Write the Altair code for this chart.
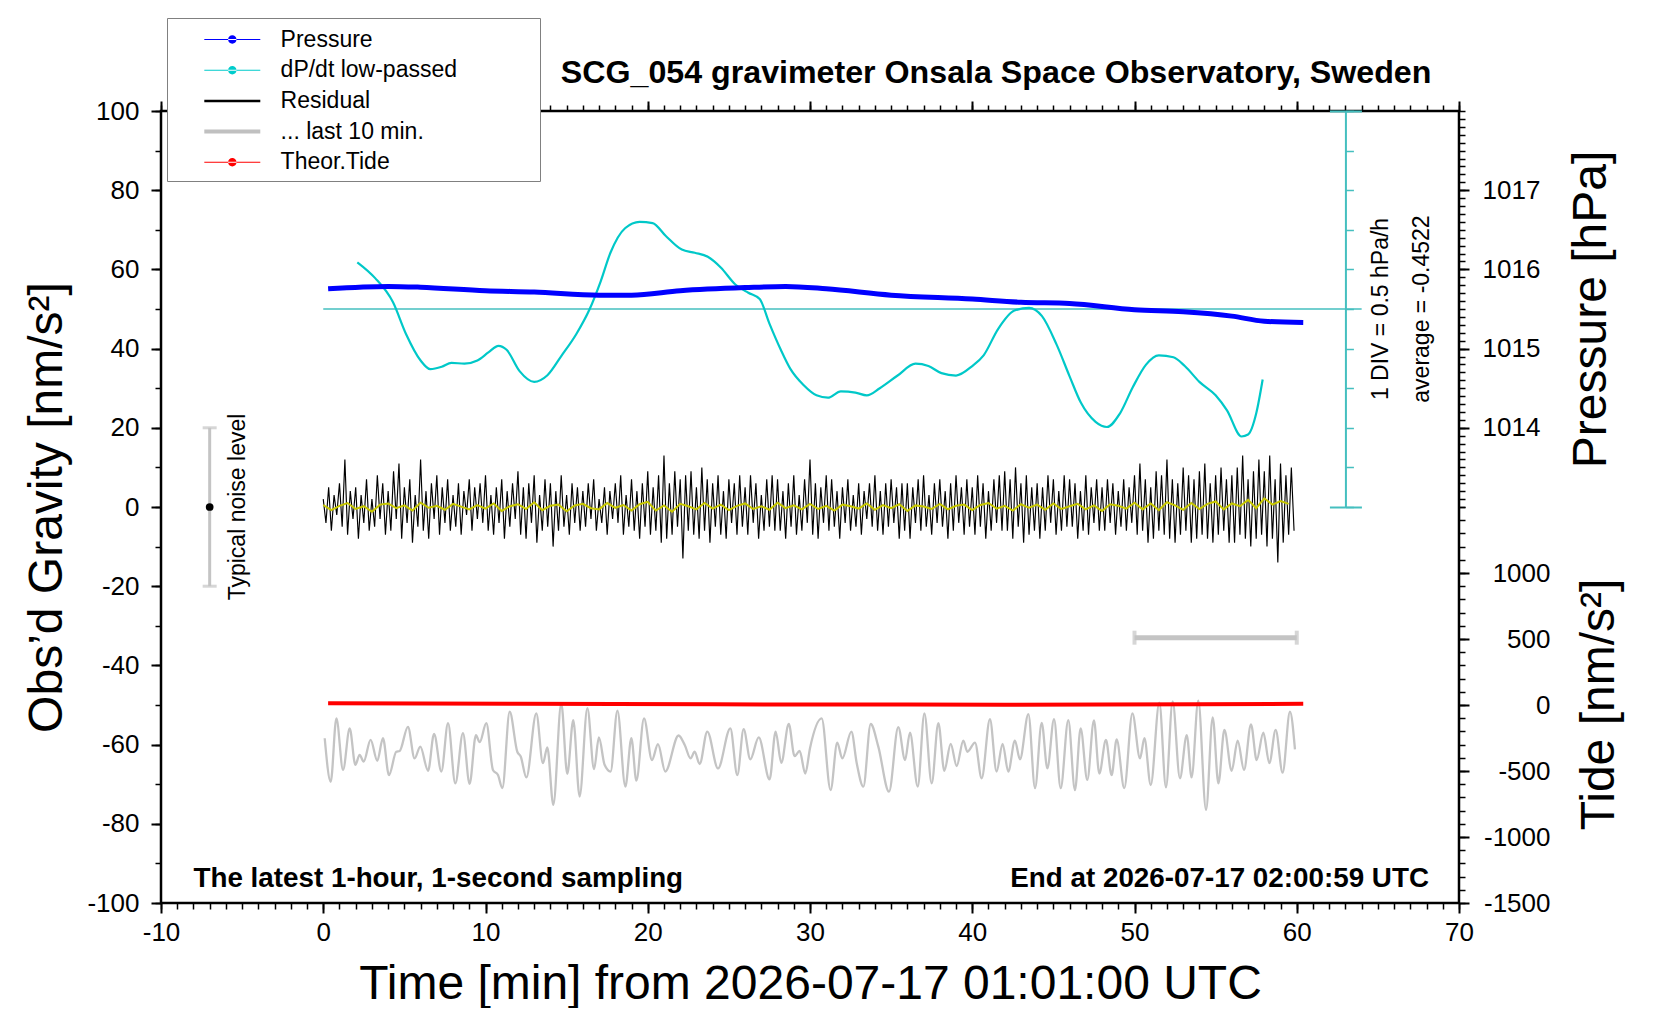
import altair as alt
import pandas as pd

FONT = "Liberation Sans"

# ---------------- values ----------------
# residual gravity [nm/s^2], one value every 10 s from 0 to 60 min
residual = [
    2, -4, 5, -6, 3, -2, 6, -5, 12, -7, 4, -3,
    5, -8, 3, -4, 7, -6, 2, -5, 8, -3, 6, -7,
    4, -6, 9, -3, 11, -8, 5, -4, 7, -9, 3, -5,
    12, -6, 4, -8, 6, -3, 8, -7, 5, -4, 7, -6,
    3, -5, 6, -7, 4, -2, 7, -6, 5, -3, 6, -4,
    8, -6, 3, -7, 5, -4, 7, -8, 4, -5, 6, -3,
    9, -7, 5, -8, 6, -4, 8, -9, 3, -6, 7, -5,
    6, -10, 4, -6, 8, -5, 3, -7, 6, -4, 5, -6,
    4, -5, 6, -3, 7, -6, 2, -4, 5, -7, 4, -3,
    6, -4, 8, -7, 3, -5, 7, -6, 4, -8, 6, -5,
    9, -7, 5, -6, 8, -9, 13, -8, 6, -7, 9, -5,
    7, -13, 8, -6, 9, -7, 5, -8, 10, -6, 7, -9,
    6, -5, 8, -7, 4, -8, 7, -4, 6, -7, 8, -5,
    5, -7, 8, -4, 6, -8, 3, -6, 7, -5, 8, -6,
    7, -6, 4, -8, 6, -5, 8, -7, 3, -6, 7, -4,
    12, -7, 6, -8, 5, -4, 8, -6, 7, -5, 4, -8,
    5, -4, 7, -6, 3, -5, 6, -7, 4, -3, 6, -5,
    8, -6, 4, -7, 6, -5, 7, -4, 5, -8, 6, -6,
    6, -8, 5, -4, 7, -6, 8, -5, 3, -7, 6, -4,
    7, -5, 4, -8, 6, -6, 8, -4, 5, -7, 7, -5,
    5, -7, 8, -5, 6, -8, 4, -6, 7, -4, 8, -6,
    9, -6, 7, -8, 10, -5, 6, -9, 8, -7, 5, -6,
    6, -8, 5, -6, 8, -4, 7, -7, 4, -6, 8, -5,
    7, -5, 6, -8, 4, -6, 8, -7, 5, -4, 7, -6,
    5, -6, 7, -4, 6, -7, 4, -5, 7, -6, 5, -4,
    8, -7, 11, -6, 7, -9, 5, -8, 9, -6, 8, -7,
    12, -8, 7, -9, 6, -7, 10, -6, 8, -9, 7, -8,
    9, -7, 11, -8, 6, -9, 8, -7, 10, -6, 7, -9,
    8, -9, 10, -7, 13, -8, 7, -10, 9, -8, 12, -7,
    9, -10, 13, -8, 7, -14, 11, -9, 8, -7, 10, -6,
]
residual_step = 1 / 6  # minutes

# smoothed residual (yellow), one value every 30 s
smooth = [
    0.5, -0.8, 0.3, 1.0, -0.5, 0.2, -1.2, 0.6, 0.9, -0.3, 0.4, -0.9, 1.1, -0.2, 0.3, -0.7, 0.8, 0.1, -0.6, 0.5,
    -0.4, 0.9, -1.0, 0.2, 0.7, -0.5, 1.2, -0.8, 0.3, 0.6, -1.1, 0.4, 0.8, -0.3, -0.6, 1.0, -0.2, 0.5, -0.9, 0.7,
    1.3, -0.9, 0.4, -1.2, 0.8, 0.2, -0.6, 1.0, -0.4, 0.6, -0.8, 0.3, 0.9, -0.5, 0.2, -0.7, 1.1, -0.3, 0.4, -0.6,
    0.8, -0.5, 0.3, -0.9, 0.6, 0.2, -0.4, 0.9, -0.7, 0.5, -0.3, 0.7, -1.0, 0.4, 0.1, -0.5, 0.8, -0.6, 0.3, 0.6,
    -0.8, 0.5, 1.0, -0.4, 0.3, -0.9, 0.7, -0.2, 0.6, -0.7, 0.9, -0.5, 0.2, 0.8, -0.6, 0.4, -1.0, 0.7, 0.3, -0.4,
    1.1, -0.6, 0.9, -0.8, 1.2, 0.4, -0.7, 1.0, -0.5, 0.8, 1.4, -0.6, 0.9, 0.2, 1.8, -0.3, 2.2, 0.6, 1.5, 0.8,
]
smooth_step = 0.5  # minutes

# "... last 10 min." trace (grey), stretched over the hour, plotted level [nm/s^2]
last10_t = [
    0.09, 0.46, 0.81, 1.22, 1.63, 1.98, 2.24, 2.49, 2.92, 3.33, 3.68, 4.05, 4.50, 4.71, 5.22, 5.63, 5.98, 6.46,
    6.83, 7.28, 7.69, 8.14, 8.61, 9.02, 9.41, 9.64, 10.05, 10.46, 10.77, 11.04, 11.49, 11.96, 12.17, 12.52,
    13.13, 13.54, 13.81, 14.18, 14.67, 15.04, 15.41, 15.80, 16.28, 16.69, 16.99, 17.34, 17.71, 18.13, 18.62,
    18.99, 19.30, 19.77, 20.26, 20.63, 21.08, 21.90, 22.28, 22.64, 22.89, 23.20, 23.67, 24.33, 25.09, 25.52,
    25.91, 26.32, 26.84, 27.51, 27.88, 28.23, 28.69, 29.05, 29.36, 29.71,
    30.0, 30.72, 31.27, 31.68, 31.99, 32.55, 32.88, 33.29, 33.74, 34.21, 34.87, 35.44, 35.86, 36.16, 36.64,
    37.05, 37.50, 37.91, 38.28, 38.67, 39.04, 39.45, 39.70, 40.17, 40.58, 41.09, 41.50, 41.87, 42.22, 42.63,
    42.94, 43.46, 43.87, 44.28, 44.63, 45.04, 45.45, 45.92, 46.33, 46.68, 47.09, 47.50, 47.83, 48.24, 48.59,
    48.90, 49.37, 49.87, 50.34, 50.61, 51.00, 51.53, 51.94, 52.35, 52.80, 53.22, 53.52, 53.93, 54.41, 54.82,
    55.17, 55.54, 55.99, 56.36, 56.75, 57.18, 57.53, 57.94, 58.31, 58.70, 59.13, 59.58, 59.89,
]
last10_v = [
    -58.4, -69.4, -53.4, -66.4, -55.9, -65.1, -62.6, -64.3, -58.8, -64.1, -58.4, -67.7, -61.8, -61.6, -55.5,
    -63.5, -60.5, -66.6, -57.3, -66.8, -54.6, -69.8, -57.1, -69.9, -57.6, -59.4, -54.6, -66.4, -67.7, -71.0,
    -51.7, -61.8, -63.0, -68.3, -52.1, -64.7, -60.7, -75.2, -49.6, -67.4, -53.8, -73.1, -50.8, -66.2, -58.2,
    -65.1, -66.8, -51.4, -70.6, -58.4, -69.1, -53.4, -63.9, -59.9, -66.8, -57.7, -60.1, -63.5, -61.8, -64.9,
    -56.7, -66.0, -55.9, -67.7, -56.1, -63.7, -58.2, -68.8, -56.7, -64.6, -54.8, -62.9, -61.6, -67.3,
    -60.9, -53.4, -71.5, -59.5, -63.5, -56.7, -64.7, -70.6, -54.8, -60.5, -71.9, -55.6, -63.9, -57.0, -70.6,
    -52.1, -69.8, -54.6, -66.6, -59.8, -65.4, -59.0, -61.8, -59.5, -68.5, -53.6, -66.8, -59.8, -66.8, -59.0,
    -63.7, -52.3, -71.0, -54.5, -66.0, -53.6, -71.0, -53.8, -71.5, -55.9, -68.9, -53.9, -67.3, -58.8, -67.7,
    -58.7, -71.0, -52.1, -63.5, -58.4, -70.2, -49.4, -70.8, -49.1, -68.5, -57.6, -68.3, -48.9, -76.5, -53.1,
    -69.8, -56.3, -66.6, -59.0, -66.4, -54.9, -63.9, -57.0, -64.7, -56.3, -67.1, -51.7, -61.2,
]

# dP/dt low-passed [hPa/h]
dpdt_t = [
    2.1, 3.2, 4.3, 5.1, 6.0, 6.6, 7.3, 7.9, 8.7, 9.5, 10.2, 10.8, 11.3, 12.1, 13.0, 13.8, 14.7, 15.6, 16.4, 17.1,
    17.7, 18.6, 19.5, 20.3, 21.1, 22.1, 22.9, 23.7, 24.5, 25.4, 26.2, 26.9, 27.5, 28.2, 28.8, 29.6, 30.4, 31.1,
    31.9, 32.8, 33.5, 34.3, 35.4, 36.5, 37.3, 38.1, 39.0, 40.0, 40.7, 41.6, 42.6, 43.5, 44.3, 45.2, 46.0, 46.7,
    47.6, 48.3, 49.1, 49.9, 50.7, 51.5, 52.4, 53.1, 54.0, 55.0, 55.7, 56.6, 57.0, 57.5, 57.9,
]
dpdt_v = [
    0.59, 0.39, 0.085, -0.315, -0.65, -0.76, -0.73, -0.68, -0.69, -0.65, -0.545, -0.465, -0.515, -0.785, -0.92,
    -0.84, -0.585, -0.315, -0.01, 0.35, 0.71, 1.02, 1.10, 1.085, 0.925, 0.75, 0.71, 0.66, 0.525, 0.31, 0.205,
    0.125, -0.185, -0.515, -0.76, -0.96, -1.09, -1.12, -1.04, -1.055, -1.09, -1.0, -0.84, -0.69, -0.72, -0.81,
    -0.84, -0.72, -0.585, -0.25, -0.02, 0.015, -0.09, -0.45, -0.85, -1.185, -1.425, -1.49, -1.32, -0.985,
    -0.705, -0.585, -0.61, -0.72, -0.92, -1.09, -1.28, -1.61, -1.585, -1.32, -0.89,
]
dpdt_ref_span = [0, 64]          # extent of the zero / average line
dpdt_axis_at = 63                # position of the dP/dt scale bar [min]

# air pressure [hPa]
pres_t = [0.3, 4, 6, 10, 13, 17, 19, 22, 26, 28.5, 31, 35, 40, 43, 46, 50, 53, 56, 58, 60.4]
pres_hpa = [1015.755, 1015.785, 1015.775, 1015.73, 1015.715, 1015.675, 1015.675, 1015.73, 1015.77, 1015.785,
            1015.755, 1015.675, 1015.625, 1015.585, 1015.57, 1015.49, 1015.465, 1015.41, 1015.345, 1015.33]

# theoretical tide [nm/s^2]
tide_t = [0.3, 6, 12, 18, 24, 30, 36, 42, 48, 54, 60.4]
tide_v = [13, 11, 9, 7, 5, 4, 3, 2, 3, 5, 9]

# typical noise level marker and "last 10 min" span
noise_t = -7
noise_range = [-20, 20]
last10_span = [50, 60]
last10_level = -33

# texts
TITLE = "SCG_054 gravimeter Onsala Space Observatory, Sweden"
NOTE_LEFT = "The latest 1-hour, 1-second sampling"
NOTE_RIGHT = "End at 2026-07-17 02:00:59 UTC"
X_TITLE = "Time [min] from 2026-07-17 01:01:00 UTC"
Y_TITLE = "Obs\u2019d Gravity [nm/s\u00b2]"
P_TITLE = "Pressure [hPa]"
T_TITLE = "Tide [nm/s\u00b2]"
DIV_TEXT = "1 DIV = 0.5 hPa/h"
AVG_TEXT = "average = -0.4522"
NOISE_TEXT = "Typical noise level"

legend_names = ["Pressure", "dP/dt low-passed", "Residual", "... last 10 min.", "Theor.Tide"]
legend_colors = ["#0000ff", "#00cccc", "#000000", "#c0c0c0", "#ff0000"]

# tick values
x_major = list(range(-10, 71, 10))
x_minor = list(range(-10, 71, 1))
g_major = list(range(-100, 101, 20))
g_minor = list(range(-100, 101, 10))
p_major = [1014, 1015, 1016, 1017]
p_minor = [round(1013 + 0.1 * i, 1) for i in range(51)]
t_major = [-1500, -1000, -500, 0, 500, 1000]
t_minor = list(range(-1500, 1501, 100))
d_ticks = [-2.5, -2.0, -1.5, -1.0, -0.5, 0.0, 0.5, 1.0, 1.5, 2.0, 2.5]
d_ends = [-2.5, 2.5]

# ---------------- geometry / styles ----------------
W, H = 1298, 792
CYAN = "#00c8c8"
CYAN_AX = "#45bfbf"
GREY = "#c4c4c4"

XS = alt.Scale(domain=[-10, 70], nice=False, zero=False)
GS = alt.Scale(domain=[-100, 100], nice=False, zero=False)
PS = alt.Scale(domain=[1013, 1018], range=[H / 2, 0], nice=False, zero=False)
TS = alt.Scale(domain=[-1500, 1500], range=[H, H / 2], nice=False, zero=False)
DS = alt.Scale(domain=[-2.5, 2.5], range=[H / 2, 0], nice=False, zero=False)

LBL = dict(labels=True, labelFont=FONT, labelFontSize=26, labelColor="black",
           labelFlush=False, labelOverlap=False, labelExpr="toString(datum.value)")
TTL = dict(titleFont=FONT, titleFontSize=48, titleFontWeight="normal", titleColor="black",
           titleAlign="center", titleBaseline="alphabetic")


def ticks_only(orient, values, size, color="black", width=1.5, **kw):
    return alt.Axis(orient=orient, values=values, tickSize=size, tickWidth=width, tickColor=color,
                    domain=False, labels=False, grid=False, title=None, **kw)


ax_bottom = alt.Axis(orient="bottom", values=x_major, tickSize=10, tickWidth=2, tickColor="black",
                     domain=False, grid=False, labelPadding=6, title=X_TITLE,
                     titleX=W / 2, titleY=95, **LBL, **TTL)
ax_left = alt.Axis(orient="left", values=g_major, tickSize=10, tickWidth=2, tickColor="black",
                   domain=False, grid=False, labelPadding=12, title=Y_TITLE, titleAngle=270,
                   titleX=-100, titleY=H / 2, **LBL, **TTL)
ax_pres = alt.Axis(orient="right", values=p_major, tickSize=10, tickWidth=2, tickColor="black",
                   domain=False, grid=False, labelPadding=13, labelAlign="left", title=P_TITLE,
                   titleAngle=270, titleX=146, titleY=H / 4, **LBL, **TTL)
ax_tide = alt.Axis(orient="right", values=t_major, tickSize=10, tickWidth=2, tickColor="black",
                   domain=False, grid=False, labelPadding=81, labelAlign="right", title=T_TITLE,
                   titleAngle=270, titleX=154, titleY=3 * H / 4 - 1, **LBL, **TTL)

px_per_min = W / 80.0
ax_dpdt = alt.Axis(orient="right", offset=-(70 - dpdt_axis_at) * px_per_min, values=d_ticks,
                   tickSize=8, tickWidth=1.5, tickColor=CYAN_AX, domain=True, domainColor=CYAN_AX,
                   domainWidth=2, labels=False, grid=False, title=None)
ax_dpdt_capr = ticks_only("right", d_ends, 16, CYAN_AX, 2, offset=-(70 - dpdt_axis_at) * px_per_min)
ax_dpdt_capl = ticks_only("left", d_ends, 16, CYAN_AX, 2, offset=-(dpdt_axis_at + 10) * px_per_min)


def X(field="t", axis=None):
    return alt.X(f"{field}:Q", scale=XS, axis=axis)


def Y(scale, field="v", axis=None):
    return alt.Y(f"{field}:Q", scale=scale, axis=axis)


# ---------------- data frames ----------------
df_res = pd.DataFrame({"t": [i * residual_step for i in range(len(residual))], "v": residual})
df_smooth = pd.DataFrame({"t": [i * smooth_step for i in range(len(smooth))], "v": smooth})
df_last10 = pd.DataFrame({"t": last10_t, "v": last10_v})
df_dpdt = pd.DataFrame({"t": dpdt_t, "v": dpdt_v})
df_pres = pd.DataFrame({"t": pres_t, "v": pres_hpa})
df_tide = pd.DataFrame({"t": tide_t, "v": tide_v})
df_avg = pd.DataFrame({"t0": [dpdt_ref_span[0]], "t1": [dpdt_ref_span[1]], "v": [0.0]})
df_noise = pd.DataFrame({"t": [noise_t], "lo": [noise_range[0]], "hi": [noise_range[1]], "mid": [0.0]})
df_noise_caps = pd.DataFrame({"t": [noise_t, noise_t], "v": noise_range})
df_bar = pd.DataFrame({"t0": [last10_span[0]], "t1": [last10_span[1]], "v": [last10_level]})
df_bar_caps = pd.DataFrame({"t": last10_span, "v": [last10_level, last10_level]})
df_leg = pd.DataFrame({"series": legend_names, "t": [float("nan")] * 5, "v": [float("nan")] * 5})

# ---------------- layers ----------------
layers = []

# dP/dt zero line and scale bar
layers.append(alt.Chart(df_avg).mark_rule(color=CYAN_AX, strokeWidth=1.5).encode(
    x=X("t0", ticks_only("top", x_major, 10, width=2)), x2="t1:Q", y=Y(DS, axis=ax_dpdt_capl)))
layers.append(alt.Chart(df_dpdt).mark_line(color=CYAN, strokeWidth=2.2, interpolate="monotone").encode(
    x=X(axis=ticks_only("top", x_minor, 6)), y=Y(DS, axis=ax_dpdt)))
layers.append(alt.Chart(df_dpdt).mark_line(opacity=0).encode(x=X(), y=Y(DS, axis=ax_dpdt_capr)))

# pressure
layers.append(alt.Chart(df_pres).mark_line(color="#0000ff", strokeWidth=5, interpolate="monotone").encode(
    x=X(), y=Y(PS, axis=ax_pres)))
layers.append(alt.Chart(df_pres).mark_line(opacity=0).encode(
    x=X(), y=Y(PS, axis=ticks_only("right", p_minor, 6))))

# residual + smoothed residual
layers.append(alt.Chart(df_res).mark_line(color="black", strokeWidth=1.15).encode(
    x=X(axis=ax_bottom), y=Y(GS, axis=ax_left)))
layers.append(alt.Chart(df_smooth).mark_line(color="#c8c800", strokeWidth=2).encode(
    x=X(axis=ticks_only("bottom", x_minor, 6)), y=Y(GS, axis=ticks_only("left", g_minor, 6))))

# last 10 minutes trace and its span marker
layers.append(alt.Chart(df_last10).mark_line(color=GREY, strokeWidth=2.3, interpolate="monotone").encode(
    x=X(), y=Y(GS)))
layers.append(alt.Chart(df_bar).mark_rule(color=GREY, strokeWidth=5).encode(
    x=X("t0"), x2="t1:Q", y=Y(GS)))
layers.append(alt.Chart(df_bar_caps).mark_tick(color=GREY, orient="vertical", size=14, thickness=4).encode(
    x=X(), y=Y(GS)))

# theoretical tide
layers.append(alt.Chart(df_tide).mark_line(color="#ff0000", strokeWidth=4).encode(
    x=X(), y=Y(TS, axis=ax_tide)))
layers.append(alt.Chart(df_tide).mark_line(opacity=0).encode(
    x=X(), y=Y(TS, axis=ticks_only("right", t_minor, 6))))

# typical noise level marker
layers.append(alt.Chart(df_noise).mark_rule(color=GREY, strokeWidth=3).encode(
    x=X(), y=Y(GS, "lo"), y2="hi:Q"))
layers.append(alt.Chart(df_noise_caps).mark_tick(color=GREY, orient="horizontal", size=14, thickness=3).encode(
    x=X(), y=Y(GS)))
layers.append(alt.Chart(df_noise).mark_point(color="black", filled=True, size=60, opacity=1).encode(
    x=X(), y=Y(GS, "mid")))


# texts
def text_layer(txt, t, v, scale, **mk):
    df = pd.DataFrame({"t": [t], "v": [v], "s": [txt]})
    return alt.Chart(df).mark_text(font=FONT, color="black", **mk).encode(x=X(), y=Y(scale), text="s:N")


layers.append(text_layer(TITLE, 68.3, 107.1, GS, fontSize=32.2, fontWeight="bold", align="right",
                         baseline="alphabetic"))
layers.append(text_layer(NOTE_LEFT, -8.0, -96.0, GS, fontSize=27.8, fontWeight="bold", align="left",
                         baseline="alphabetic"))
layers.append(text_layer(NOTE_RIGHT, 68.15, -96.0, GS, fontSize=27.8, fontWeight="bold", align="right",
                         baseline="alphabetic"))
layers.append(text_layer(NOISE_TEXT, -4.8, 0.0, GS, fontSize=23, angle=270, align="center",
                         baseline="alphabetic"))
layers.append(text_layer(DIV_TEXT, 65.6, 0.0, DS, fontSize=23, angle=270, align="center",
                         baseline="alphabetic"))
layers.append(text_layer(AVG_TEXT, 68.15, 0.0, DS, fontSize=23, angle=270, align="center",
                         baseline="alphabetic"))

# legend (symbols: thin line with dot, or plain line of given thickness); unit = 15.2 px
dot_line = ("M-1.842,-0.033H1.842V0.033H-1.842Z "
            "M-0.276,0A0.276,0.276 0 1,0 0.276,0A0.276,0.276 0 1,0 -0.276,0Z")
legend_paths = [dot_line, dot_line, "M-1.842,-0.082H1.842V0.082H-1.842Z",
                "M-1.842,-0.132H1.842V0.132H-1.842Z", dot_line]
PAD = "\u00a0" * 12 + "\u200b"   # widens the legend box to the reference width
LEG = alt.Legend(title=None, orient="none", legendX=6, legendY=-93, direction="vertical",
                 fillColor="white", strokeColor="#808080", padding=6, cornerRadius=0,
                 labelFont=FONT, labelFontSize=23, labelColor="black", labelOffset=32.8,
                 symbolOffset=43.8, symbolSize=924, symbolStrokeWidth=0, symbolOpacity=1,
                 rowPadding=2.7, labelLimit=600,
                 labelExpr="datum.label + '" + PAD + "'")
layers.append(alt.Chart(df_leg).mark_point(filled=True, opacity=1).encode(
    x=X(), y=Y(GS),
    color=alt.Color("series:N", scale=alt.Scale(domain=legend_names, range=legend_colors), legend=LEG),
    shape=alt.Shape("series:N", scale=alt.Scale(domain=legend_names, range=legend_paths), legend=LEG)))

chart = alt.layer(*layers).resolve_scale(x="independent", y="independent").resolve_axis(
    x="independent", y="independent").properties(
    width=W, height=H,
    padding={"left": 153, "top": 103, "right": 175, "bottom": 105},
    autosize=alt.AutoSizeParams(type="none"),
).configure(font=FONT).configure_view(stroke="black", strokeWidth=2.5)

chart.save("out.html", embed_options={"renderer": "svg", "actions": False})
